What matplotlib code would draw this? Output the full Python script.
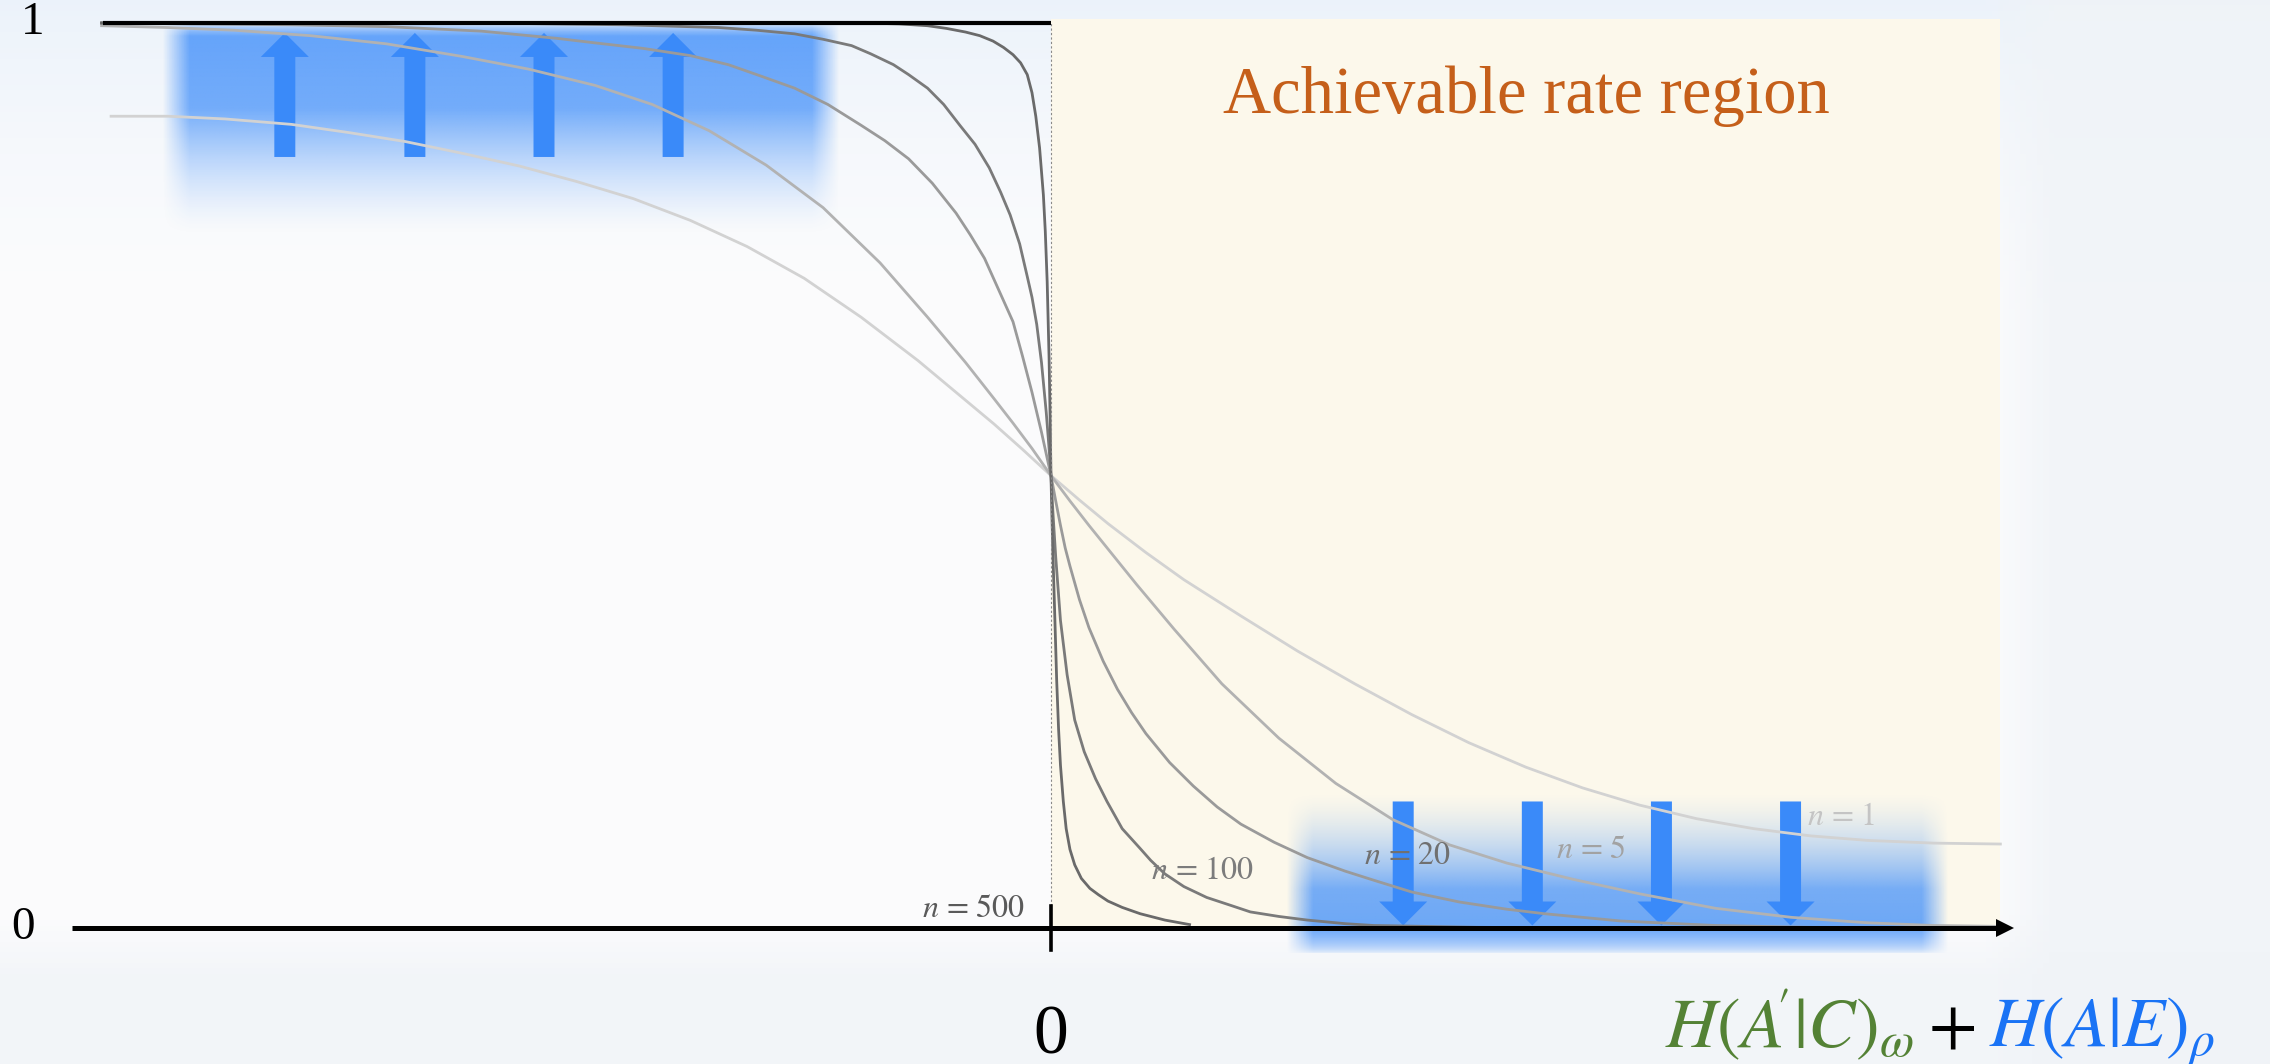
import numpy as np
import matplotlib.pyplot as plt
from matplotlib.patches import FancyArrow, Rectangle

plt.rcParams['mathtext.fontset'] = 'stix'

# curves: x = rate offset (0 = threshold), y = probability
x_n1 = [-0.99, -0.93, -0.87, -0.80, -0.74, -0.68, -0.62, -0.56, -0.50, -0.44, -0.38, -0.32,
        -0.26, -0.20, -0.14, -0.10, -0.06, -0.03, 0.0,
        0.03, 0.06, 0.10, 0.14, 0.20, 0.26, 0.32, 0.38, 0.44, 0.50, 0.56, 0.62, 0.68, 0.74,
        0.80, 0.86, 0.93, 1.0]
y_n1 = [0.897, 0.897, 0.894, 0.888, 0.879, 0.869, 0.856, 0.842, 0.825, 0.806, 0.782, 0.753,
        0.718, 0.675, 0.627, 0.592, 0.557, 0.529, 0.500,
        0.473, 0.447, 0.415, 0.385, 0.345, 0.306, 0.270, 0.236, 0.205, 0.178, 0.155, 0.136,
        0.121, 0.110, 0.102, 0.097, 0.094, 0.093]

x_n5 = [-1.0, -0.93, -0.86, -0.78, -0.70, -0.62, -0.55, -0.48, -0.42, -0.36, -0.30, -0.24,
        -0.18, -0.13, -0.09, -0.06, -0.04, -0.02, 0.0,
        0.02, 0.04, 0.06, 0.09, 0.13, 0.18, 0.24, 0.30, 0.36, 0.42, 0.48, 0.55, 0.62, 0.70,
        0.78, 0.86, 0.93, 1.0]
y_n5 = [0.997, 0.995, 0.992, 0.986, 0.977, 0.963, 0.949, 0.931, 0.910, 0.881, 0.843, 0.796,
        0.735, 0.675, 0.625, 0.585, 0.558, 0.530, 0.500,
        0.472, 0.445, 0.419, 0.380, 0.330, 0.270, 0.210, 0.160, 0.120, 0.092, 0.072, 0.054,
        0.038, 0.022, 0.012, 0.006, 0.003, 0.002]

x_n20 = [-1.0, -0.80, -0.70, -0.60, -0.52, -0.48, -0.43, -0.38, -0.34, -0.31, -0.27, -0.235,
         -0.20, -0.175, -0.15, -0.125, -0.10, -0.085, -0.07, -0.055, -0.04, -0.03, -0.02,
         -0.015, -0.01, -0.005, 0.0,
         0.005, 0.01, 0.015, 0.02, 0.03, 0.04, 0.055, 0.07, 0.085, 0.10, 0.125, 0.15, 0.175,
         0.20, 0.235, 0.27, 0.31, 0.34, 0.38, 0.43, 0.48, 0.52, 0.60, 0.70, 0.80, 1.0]
y_n20 = [1.0, 0.998, 0.996, 0.991, 0.983, 0.978, 0.972, 0.964, 0.954, 0.943, 0.928, 0.910,
         0.887, 0.870, 0.850, 0.823, 0.790, 0.766, 0.740, 0.705, 0.670, 0.632, 0.592,
         0.570, 0.548, 0.524, 0.500,
         0.472, 0.445, 0.420, 0.400, 0.363, 0.332, 0.295, 0.264, 0.238, 0.215, 0.183, 0.157,
         0.134, 0.115, 0.095, 0.078, 0.063, 0.053, 0.040, 0.029, 0.021, 0.016, 0.008, 0.003,
         0.001, 0.0]

x_n100 = [-1.0, -0.60, -0.45, -0.35, -0.31, -0.27, -0.24, -0.21, -0.19, -0.166, -0.15, -0.13,
          -0.113, -0.096, -0.08, -0.065, -0.053, -0.043, -0.033, -0.025, -0.02, -0.015, -0.01,
          -0.005, -0.002, 0.0,
          0.002, 0.005, 0.01, 0.017, 0.025, 0.035, 0.047, 0.059, 0.075, 0.094, 0.105, 0.12,
          0.14, 0.164, 0.19, 0.21, 0.24, 0.27, 0.31, 0.34, 0.45, 0.60, 1.0]
y_n100 = [1.0, 1.0, 0.998, 0.995, 0.992, 0.988, 0.982, 0.975, 0.966, 0.954, 0.943, 0.928,
          0.910, 0.887, 0.866, 0.840, 0.813, 0.788, 0.756, 0.720, 0.697, 0.667, 0.625,
          0.570, 0.530, 0.500,
          0.460, 0.410, 0.340, 0.280, 0.230, 0.195, 0.165, 0.140, 0.110, 0.088, 0.075, 0.060,
          0.046, 0.034, 0.025, 0.018, 0.013, 0.009, 0.005, 0.003, 0.001, 0.0, 0.0]

x_n500 = [-1.0, -0.20, -0.16, -0.13, -0.11, -0.09, -0.075, -0.061, -0.05, -0.04, -0.032,
          -0.025, -0.02, -0.016, -0.012, -0.008, -0.006, -0.004, -0.002, -0.001, 0.0,
          0.001, 0.002, 0.003, 0.004, 0.006, 0.008, 0.010, 0.013, 0.016, 0.020, 0.025, 0.032,
          0.041, 0.05, 0.06, 0.075, 0.094, 0.12, 0.146]
y_n500 = [1.0, 1.0, 0.999, 0.997, 0.994, 0.990, 0.986, 0.980, 0.973, 0.965, 0.956,
          0.943, 0.923, 0.897, 0.862, 0.810, 0.770, 0.714, 0.630, 0.570, 0.500,
          0.455, 0.415, 0.380, 0.345, 0.274, 0.220, 0.180, 0.140, 0.110, 0.087, 0.070, 0.055,
          0.044, 0.037, 0.030, 0.023, 0.016, 0.009, 0.004]

curve_labels = ['n = 1', 'n = 5', 'n = 20', 'n = 100', 'n = 500']

# frame: data x in [-1, 1] spans pixels 101..2000, y in [0, 1] spans 928..23
XLIM = (-1.107, 1.284)
YLIM = (-0.150, 1.0254)


def background(ax):
    h, w = 200, 400
    ty = np.linspace(0, 1, h)[:, None]  # 0 = top of figure
    tx = np.linspace(0, 1, w)[None, :]
    base = np.array([0.988, 0.988, 0.992])
    top = np.array([0.925, 0.952, 0.982])
    low = np.array([0.952, 0.962, 0.976])
    k_top = np.clip(1 - ty / 0.3, 0, 1) ** 1.5
    k_low = np.clip((ty - 0.86) / 0.06, 0, 1)
    k_right = np.clip((tx - 0.875) / 0.03, 0, 1)
    img = base * (1 - k_top[..., None]) + top * k_top[..., None]
    img = img * (1 - k_low[..., None]) + low * k_low[..., None]
    right = np.array([0.940, 0.953, 0.970])
    kr = (k_right * 0.8)[..., None]
    img = img * (1 - kr) + right * kr
    img = np.broadcast_to(img, (h, w, 3))
    ax.imshow(img, extent=[XLIM[0], XLIM[1], YLIM[0], YLIM[1]], aspect='auto',
              origin='upper', zorder=0)


def glow(ax, x0, x1, y0, y1, solid_top, edge=0.06):
    h, w = 160, 400
    t = np.linspace(0, 1, h)[:, None]  # 0 = bottom
    s = np.linspace(0, 1, w)[None, :]
    if not solid_top:
        t = 1 - t
    a_y = np.clip(t / 0.6, 0, 1) ** 1.4 * (0.58 + 0.2 * t) * np.clip((1 - t) / edge, 0, 1) ** 0.6
    a_x = np.clip(s / 0.04, 0, 1) * np.clip((1 - s) / 0.04, 0, 1)
    rgba = np.zeros((h, w, 4))
    rgba[..., 0] = 60 / 255
    rgba[..., 1] = 140 / 255
    rgba[..., 2] = 250 / 255
    rgba[..., 3] = a_y * a_x
    ax.imshow(rgba, extent=[x0, x1, y0, y1], aspect='auto', origin='lower', zorder=2)


fig = plt.figure(figsize=(22.7, 10.64), dpi=100)
ax = fig.add_axes([0, 0, 1, 1])
background(ax)

# achievable region
ax.add_patch(Rectangle((0, 0), 1.0, 1.004, facecolor='#fcf8eb', edgecolor='none', zorder=1))

# blue glow boxes
glow(ax, -0.936, -0.222, 0.765, 1.0, True)
glow(ax, 0.248, 0.946, -0.028, 0.150, False, edge=0.16)

for xa in [-0.807, -0.670, -0.534, -0.398]:
    ax.add_patch(FancyArrow(xa, 0.852, 0, 0.137, width=0.0221, head_width=0.0506,
                            head_length=0.0265, length_includes_head=True,
                            color='#3a8af9', lw=0, zorder=3))
for xa in [0.371, 0.507, 0.643, 0.779]:
    ax.add_patch(FancyArrow(xa, 0.140, 0, -0.137, width=0.0221, head_width=0.0506,
                            head_length=0.0265, length_includes_head=True,
                            color='#3a8af9', lw=0, zorder=3))

# curves
curves = [(x_n1, y_n1, '#d2d2d2'), (x_n5, y_n5, '#b2b2b2'), (x_n20, y_n20, '#9a9a9a'),
          (x_n100, y_n100, '#7a7a7a'), (x_n500, y_n500, '#6a6a6a')]
for xs, ys, c in curves:
    ax.plot(xs, ys, color=c, lw=2.0, solid_joinstyle='round', zorder=4)

# ideal step and axis
ax.plot([0, 0], [0, 1], color='#8a8a8a', lw=0.8, ls=(0, (2, 2)), zorder=4)
ax.plot([-0.998, 0], [1, 1], color='black', lw=3.0, solid_capstyle='butt', zorder=5)
ax.plot([-1.031, 1.0], [0, 0], color='black', lw=3.6, solid_capstyle='butt', zorder=5)
ax.plot(1.005, 0, marker='>', ms=13, color='black', mew=0, zorder=5)
ax.plot([0, 0], [-0.024, 0.025], color='black', lw=2.6, zorder=5)

# curve labels
label_pos = [(0.796, 0.114, 'left', '#c4c4c4'), (0.532, 0.078, 'left', '#a2a2a2'),
             (0.330, 0.071, 'left', '#707070'), (0.105, 0.054, 'left', '#7c7c7c'),
             (-0.027, 0.012, 'right', '#5a5a5a')]
for lab, (lx, ly, ha, c) in zip(curve_labels, label_pos):
    ax.text(lx, ly, r'$n$' + lab[1:], fontsize=23, color=c, ha=ha, va='baseline',
            family='STIXGeneral', zorder=6)

serif = 'Liberation Serif'
ax.text(-1.073, 1.0, '1', fontsize=34, family=serif, ha='center', va='center', zorder=6)
ax.text(-1.083, 0.0, '0', fontsize=34, family=serif, ha='center', va='center', zorder=6)
ax.text(0.0, -0.138, '0', fontsize=50, family=serif, ha='center', va='baseline', zorder=6)
ax.text(0.501, 0.919, 'Achievable rate region', fontsize=48, family=serif,
        color='#c55f1a', ha='center', va='center', zorder=6)

# x-axis label in three colours
ax.set_xlim(XLIM)
ax.set_ylim(YLIM)
ax.axis('off')
fs = 51
xb, yb = (1665 - 1051) / 949.5, -0.131
t1 = ax.text(xb, yb, r"$H(A\!'|C)_{\omega}$", fontsize=fs, color='#548235',
             ha='left', va='baseline', zorder=6)
fig.canvas.draw()
inv = ax.transData.inverted()
x_end = inv.transform((t1.get_window_extent().x1 + 14, 0))[0]
t2 = ax.text(x_end, yb, r"$+$", fontsize=fs, color='black', ha='left', va='baseline', zorder=6)
fig.canvas.draw()
x_end = inv.transform((t2.get_window_extent().x1 + 14, 0))[0]
ax.text(x_end, yb, r"$H(A|E)_{\rho}$", fontsize=fs, color='#1a73f5', ha='left',
        va='baseline', zorder=6)

fig.savefig('out.png', dpi=100)
